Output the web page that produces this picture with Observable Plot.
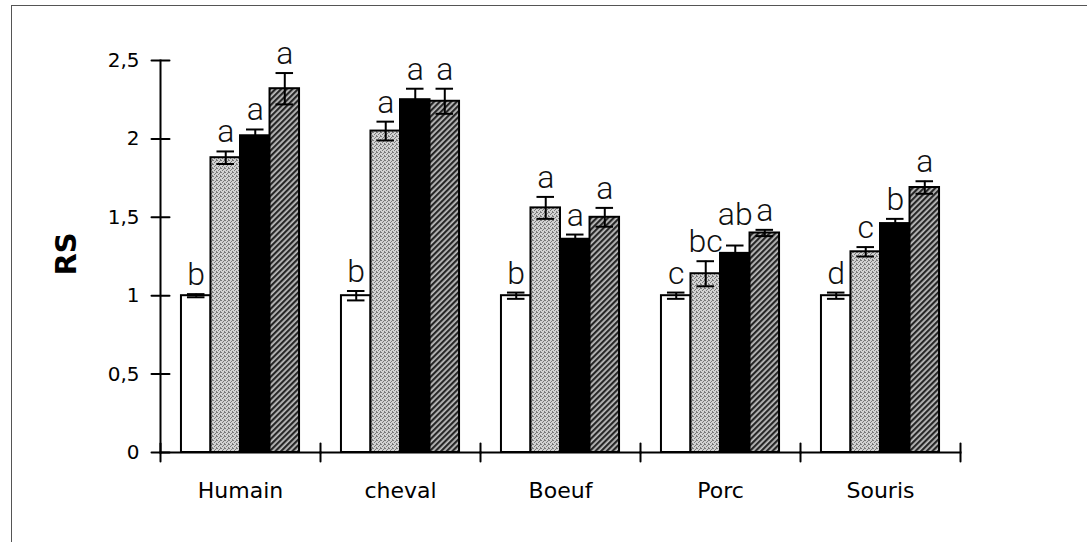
<!DOCTYPE html>
<html><head><meta charset="utf-8">
<script src="https://cdn.jsdelivr.net/npm/d3@7"></script>
<script src="https://cdn.jsdelivr.net/npm/@observablehq/plot@0.6"></script>
<style>
body{margin:0;background:#fff}
#wrap{position:relative;width:1090px;height:542px;overflow:hidden;background:#fff}
#wrap svg{position:absolute;left:0;top:0}
#border{position:absolute;left:11px;top:5px;width:1075px;height:545px;border-top:1.5px solid #555;border-left:1.5px solid #555;pointer-events:none}
</style></head><body><div id="wrap"><div id="border"></div></div>
<script>
// Categories
const species = ["Humain", "cheval", "Boeuf", "Porc", "Souris"];
const series = ["témoin", "traitement 1", "traitement 2", "traitement 3"];
// RS values per series (one value per species)
const rsS1 = [1.00, 1.00, 1.00, 1.00, 1.00];
const rsS2 = [1.88, 2.05, 1.56, 1.14, 1.28];
const rsS3 = [2.02, 2.25, 1.36, 1.27, 1.46];
const rsS4 = [2.32, 2.24, 1.50, 1.40, 1.69];
// Error (half-length of error bars)
const errS1 = [0.01, 0.03, 0.02, 0.02, 0.02];
const errS2 = [0.04, 0.06, 0.07, 0.08, 0.03];
const errS3 = [0.04, 0.07, 0.03, 0.05, 0.03];
const errS4 = [0.10, 0.08, 0.06, 0.02, 0.04];
// Significance letters
const letS1 = ["b", "b", "b", "c", "d"];
const letS2 = ["a", "a", "a", "bc", "c"];
const letS3 = ["a", "a", "a", "ab", "b"];
const letS4 = ["a", "a", "a", "a", "a"];
// Y tick labels
const yTicks = [0, 0.5, 1, 1.5, 2, 2.5];

const rs = [rsS1, rsS2, rsS3, rsS4];
const err = [errS1, errS2, errS3, errS4];
const lets = [letS1, letS2, letS3, letS4];
const data = [];
species.forEach((sp, i) => series.forEach((se, j) => data.push({
  species: sp, series: se, value: rs[j][i], err: err[j][i], letter: lets[j][i]
})));

const tickShape = {draw(context, l) { context.moveTo(0, 0); context.lineTo(0, -l); }};
const letterSize = 32;

const plot = Plot.plot({
  width: 1090, height: 542,
  marginLeft: 159, marginRight: 129, marginTop: 60, marginBottom: 90,
  style: {fontFamily: "DejaVu Sans", background: "transparent", color: "#000", overflow: "visible"},
  fx: {domain: species, padding: 0},
  x: {domain: series, paddingInner: 0, paddingOuter: 0.71, axis: null, round: false},
  y: {domain: [0, 2.5]},
  color: {domain: series, range: ["#ffffff", "url(#stipple)", "#000000", "url(#hatch)"]},
  marks: [
    Plot.barY(data, {fx: "species", x: "series", y: "value", fill: "series", stroke: "#000", strokeWidth: 2}),
    Plot.ruleX(data, {fx: "species", x: "series", y1: d => d.value - d.err, y2: d => d.value + d.err, stroke: "#000", strokeWidth: 2}),
    Plot.tickY(data, {fx: "species", x: "series", y: d => d.value + d.err, stroke: "#000", strokeWidth: 2, insetLeft: 6, insetRight: 6}),
    Plot.tickY(data, {fx: "species", x: "series", y: d => d.value - d.err, stroke: "#000", strokeWidth: 2, insetLeft: 6, insetRight: 6}),
    Plot.text(data, {fx: "species", x: "series", y: d => d.value + d.err, text: "letter", lineAnchor: "bottom", dy: -9,
      fontSize: letterSize, fontFamily: "Roboto", fontWeight: 300, fill: "#111", className: "letters"}),
    Plot.frame({anchor: "bottom", stroke: "#000", strokeWidth: 2}),
    Plot.frame({anchor: "left", facetAnchor: "left", stroke: "#000", strokeWidth: 2}),
    Plot.vector([0], {frameAnchor: "bottom-left", length: 18, anchor: "middle", shape: tickShape, stroke: "#000", strokeWidth: 2}),
    Plot.vector([0], {frameAnchor: "bottom-right", length: 18, anchor: "middle", shape: tickShape, stroke: "#000", strokeWidth: 2, facetAnchor: "right"}),
    Plot.vector(yTicks, {y: d => d, frameAnchor: "left", rotate: 90, length: 18, anchor: "middle", shape: tickShape, stroke: "#000", strokeWidth: 2, facetAnchor: "left"}),
    Plot.axisY({ticks: yTicks, tickFormat: d => String(d).replace(".", ","), tickSize: 0, tickPadding: 21, fontSize: 20, label: null}),
    Plot.axisFx({anchor: "bottom", tickSize: 0, tickPadding: 30, fontSize: 22, label: null}),
    Plot.text(["RS"], {frameAnchor: "left", dx: -94, dy: 19, rotate: -90, fontSize: 29, fontWeight: "bold", facetAnchor: "left"})
  ]
});

const svg = d3.select(plot);
const defs = svg.insert("defs", ":first-child");
const st = defs.append("pattern").attr("id", "stipple").attr("patternUnits", "userSpaceOnUse").attr("width", 4).attr("height", 4);
st.append("rect").attr("width", 4).attr("height", 4).attr("fill", "#d2d2d2");
[[0,0],[2,1],[1,2],[3,3],[3,0]].forEach(([x, y]) => st.append("rect").attr("x", x).attr("y", y).attr("width", 1).attr("height", 1).attr("fill", "#7a7a7a"));
const ht = defs.append("pattern").attr("id", "hatch").attr("patternUnits", "userSpaceOnUse").attr("width", 4).attr("height", 4).attr("patternTransform", "rotate(45)");
ht.append("rect").attr("width", 4).attr("height", 4).attr("fill", "#bdbdbd");
ht.append("rect").attr("width", 2.2).attr("height", 4).attr("fill", "#262626");

document.getElementById("wrap").prepend(plot);

// Lift a significance label above its left neighbour when the two would collide
const placed = [];
plot.querySelectorAll(".letters text").forEach(t => {
  const r = t.getBoundingClientRect();
  const pad = 0.2 * letterSize;
  let top = r.top + pad, bottom = r.bottom - pad, shift = 0;
  for (const p of placed) {
    if (r.left < p.right - 3 && r.right > p.left + 3 && top - shift < p.bottom && bottom - shift > p.top) {
      shift = bottom - p.top + 2;
    }
  }
  if (shift > 0) {
    const tr = t.getAttribute("transform") || "";
    t.setAttribute("transform", `translate(0,${-shift}) ${tr}`);
  }
  placed.push({left: r.left, right: r.right, top: top - shift, bottom: bottom - shift});
});
</script>
</body></html>
